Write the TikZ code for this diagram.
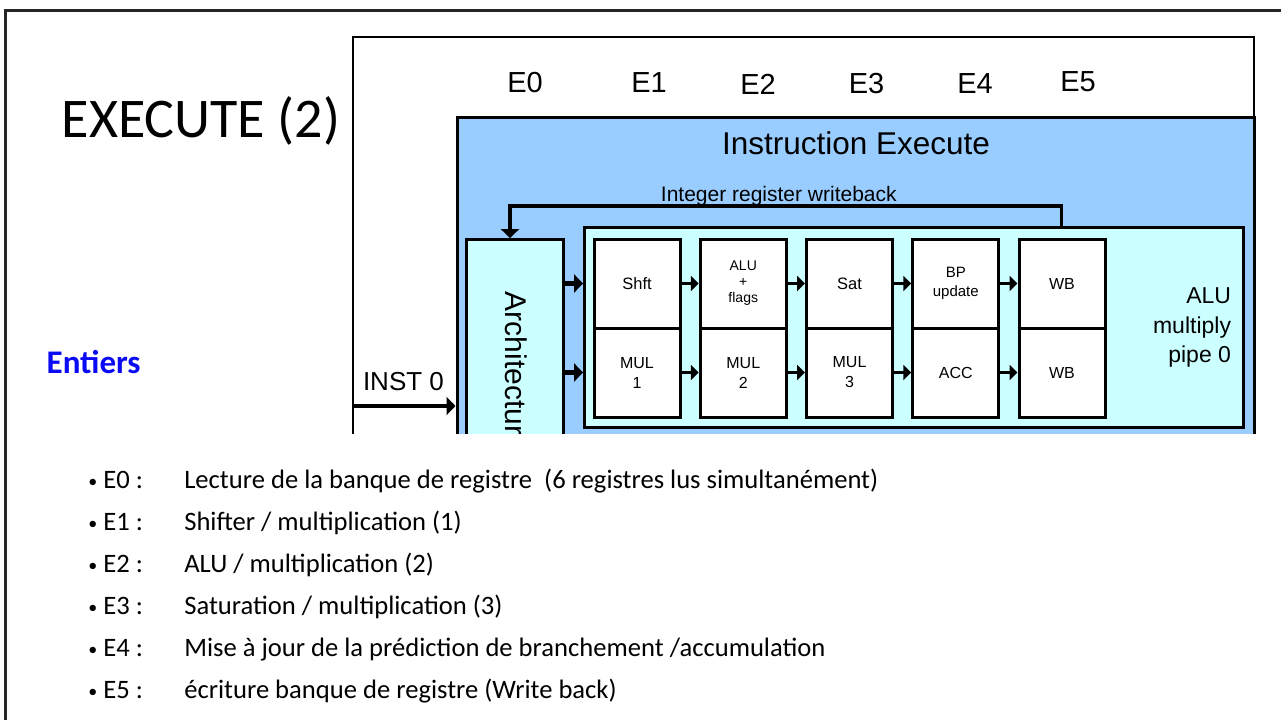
\documentclass[tikz,border=0pt]{standalone}
\usepackage{fontspec}
\setmainfont{Carlito}
\newfontfamily\arialf{Liberation Sans}
\usetikzlibrary{arrows.meta}
\definecolor{ieblue}{RGB}{153,204,255}
\definecolor{pipecyan}{RGB}{204,255,255}
\definecolor{entblue}{RGB}{10,10,245}
\newcommand\fsz[2]{\fontsize{#1}{#2}\selectfont}
\newcommand\itemdot{\makebox[15pt][l]{\raisebox{1pt}{\fsz{18}{20}•}}}

\tikzset{
  txt/.style={inner sep=0pt, outer sep=0pt},
  stagebox/.style={draw=black, line width=3pt, fill=white, minimum width=86pt,
    minimum height=89pt, inner sep=0pt, align=center, font=\arialf\fsz{16}{20}},
  panel/.style={draw=black, inner sep=0pt},
  link/.style={line width=3pt, -{Triangle[length=8pt,width=15pt]}},
  feed/.style={line width=5pt, -{Triangle[length=9pt,width=18pt]}},
  busline/.style={line width=3.3pt, -{Triangle[length=9pt,width=18pt]}},
  stagelbl/.style={txt, anchor=base, font=\arialf\fsz{29}{32}},
  bulletline/.style={txt, anchor=base west, font=\fsz{26.6}{32}},
}

\begin{document}
\begin{tikzpicture}[x=1pt, y=-1pt]
\useasboundingbox (0,0) rectangle (1281,720);

% slide frame (top and left edges)
\draw[line width=3pt, black!85] (5.7,720) -- (5.7,10) -- (1281,10);

% slide title and side label
\node[txt, anchor=base west, font=\fsz{56}{60}] (title) at (61.7,137.3) {EXECUTE (2)};
\node[txt, anchor=base west, font=\bfseries\fsz{33}{36}, text=entblue] (entiers) at (46.7,373.3) {Entiers};

% ---------------- pipeline diagram ----------------
\begin{scope}
\clip (0,0) rectangle (1281,433);

\node[panel, line width=2pt, fill=white, minimum width=901pt, minimum height=413pt] (outer) at (803.5,243.5) {};
\node[panel, line width=3pt, fill=ieblue, minimum width=797pt, minimum height=333pt] (exec) at (855.5,283.5) {};
\node[panel, line width=2.5pt, fill=pipecyan, minimum width=659pt, minimum height=199.6pt] (pipe) at (913.8,327.5) {};
\node[panel, line width=2.5pt, fill=pipecyan, minimum width=96.6pt, minimum height=210.7pt] (arch) at (515,344.65) {};
\node[txt, rotate=-90, anchor=west, font=\arialf\fsz{30}{34}] (archlbl) at (516,291.7) {Architectur};

% stage numbers
\node[stagelbl] (e0) at (525,92.7) {E0};
\node[stagelbl] (e1) at (649,92.7) {E1};
\node[stagelbl] (e2) at (758,94) {E2};
\node[stagelbl] (e3) at (866.5,93.3) {E3};
\node[stagelbl] (e4) at (975,93) {E4};
\node[stagelbl] (e5) at (1078,91.7) {E5};

\node[txt, font=\arialf\fsz{31.5}{34}] (ietitle) at (856,143) {Instruction Execute};
\node[txt, anchor=base, font=\arialf\fsz{21}{24}] (wblbl) at (778.8,201.7) {Integer register writeback};

\node[txt, anchor=east, align=right, font=\arialf\fsz{23}{29.2}] (pipelbl) at (1231,327.5) {ALU\\multiply\\pipe 0};

% pipeline stages: upper row (ALU) and lower row (multiply)
\node[stagebox, font=\arialf\fsz{16.5}{20}] (s1a) at (637,283.5) {Shft};
\node[stagebox, font=\arialf\fsz{14}{16}] (s2a) at (743.25,283.5) {ALU\\+\\flags};
\node[stagebox, font=\arialf\fsz{16.5}{20}] (s3a) at (849.5,283.5) {Sat};
\node[stagebox, font=\arialf\fsz{15}{19}] (s4a) at (955.75,283.5) {BP\\update};
\node[stagebox] (s5a) at (1062,283.5) {WB};

\node[stagebox] (s1b) at (637,372.5) {MUL\\1};
\node[stagebox] (s2b) at (743.25,372.5) {MUL\\2};
\node[stagebox] (s3b) at (849.5,372.5) {MUL\\3};
\node[stagebox] (s4b) at (955.75,372.5) {ACC};
\node[stagebox] (s5b) at (1062,372.5) {WB};

% stage-to-stage transfers
\foreach \a/\b in {s1a/s2a, s2a/s3a, s3a/s4a, s4a/s5a, s1b/s2b, s2b/s3b, s3b/s4b, s4b/s5b}
  \draw[link] (\a.east) -- (\b.west);

% operand feed from the register file
\draw[feed] (arch.east |- s1a.west) -- (pipe.west |- s1a.west);
\draw[feed] (arch.east |- s1b.west) -- (pipe.west |- s1b.west);

% writeback bus
\coordinate (wbR) at (1061.7,206);
\coordinate (wbL) at (510,206);
\draw[busline] (pipe.north -| wbR) -- (wbR) -- (wbL) -- (arch.north -| wbL);

% instruction input
\node[txt, anchor=base west, font=\arialf\fsz{26}{30}] (instlbl) at (363,390) {INST 0};
\coordinate (instsrc) at (353,406);
\draw[busline] (instsrc) -- (exec.west |- instsrc);
\end{scope}

% ---------------- stage descriptions ----------------
\node[bulletline] (d0) at (88.3,488.5) {\itemdot\makebox[81pt][l]{E0 :}Lecture de la banque de registre \ (6 registres lus simultanément)};
\node[bulletline] (d1) at (88.3,530.5) {\itemdot\makebox[81pt][l]{E1 :}Shifter / multiplication (1)};
\node[bulletline] (d2) at (88.3,572.5) {\itemdot\makebox[81pt][l]{E2 :}ALU / multiplication (2)};
\node[bulletline] (d3) at (88.3,614.5) {\itemdot\makebox[81pt][l]{E3 :}Saturation / multiplication (3)};
\node[bulletline] (d4) at (88.3,656.5) {\itemdot\makebox[81pt][l]{E4 :}Mise à jour de la prédiction de branchement /accumulation};
\node[bulletline] (d5) at (88.3,698.5) {\itemdot\makebox[81pt][l]{E5 :}écriture banque de registre (Write back)};
\end{tikzpicture}
\end{document}
